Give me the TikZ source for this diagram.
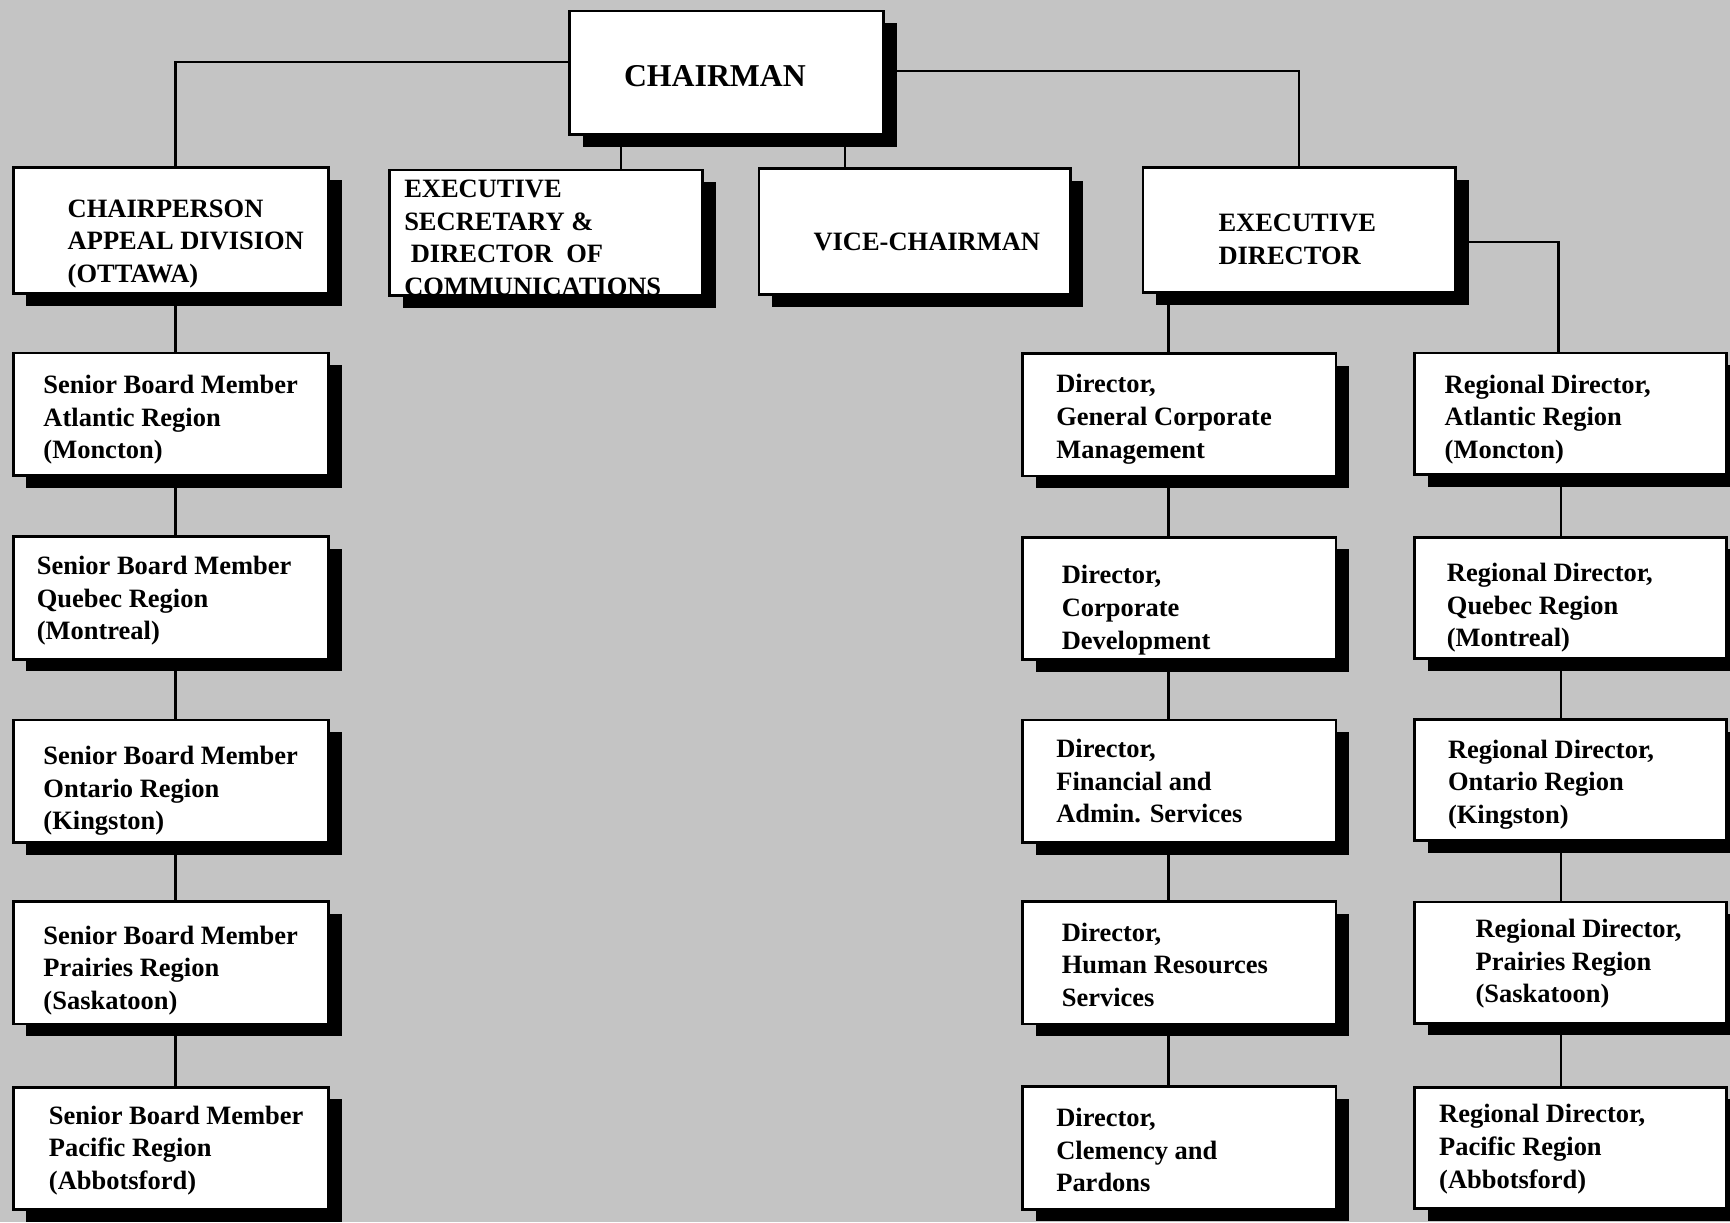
\documentclass[tikz,border=0pt]{standalone}
\usepackage{fontspec}
\setmainfont{Liberation Serif}
\usetikzlibrary{shadows}
\definecolor{paper}{gray}{0.77}

\begin{document}
\begin{tikzpicture}[x=0.5pt,y=-0.5pt,
  orgbox/.style={draw=black, line width=1.2pt, fill=white, inner sep=0pt,
    drop shadow={shadow xshift=6pt, shadow yshift=-5.5pt, opacity=1, fill=black}},
  colL/.style={orgbox, minimum width=143pt, minimum height=55.5pt},
  colM/.style={orgbox, minimum width=142pt, minimum height=55.5pt},
  colR/.style={orgbox, minimum width=141.5pt, minimum height=55pt},
  toprow/.style={orgbox, minimum height=57pt},
  lbl/.style={inner sep=0pt, anchor=west, align=left, yshift=-1.5pt,
    font=\fontsize{12}{14.75}\selectfont\bfseries},
  head/.style={inner sep=0pt, align=center,
    font=\fontsize{14.4}{17}\selectfont\bfseries},
  link/.style={draw=black, line width=1pt}]

% page background
\path[use as bounding box, fill=paper] (0,0) rectangle (1568,1108);

% ---------- boxes ----------
\node[toprow, minimum width=142.5pt, minimum height=56pt] (chair) at (658.5,66) {};
\node[toprow, minimum width=143pt] (cp) at (155,209) {};
\node[toprow, minimum width=142pt] (es) at (495,211) {};
\node[toprow, minimum width=141pt] (vc) at (829,210) {};
\node[toprow, minimum width=141.5pt, minimum height=56.5pt] (ed) at (1177.5,208.5) {};

\node[colL] (s1) at (155,375.5) {};
\node[colL] (s2) at (155,542) {};
\node[colL] (s3) at (155,708) {};
\node[colL] (s4) at (155,872.5) {};
\node[colL] (s5) at (155,1041) {};

\node[colM] (d1) at (1069,376) {};
\node[colM] (d2) at (1069,542.5) {};
\node[colM] (d3) at (1069,708) {};
\node[colM] (d4) at (1069,872.5) {};
\node[colM] (d5) at (1069,1040.5) {};

\node[colR] (r1) at (1423.5,375) {};
\node[colR] (r2) at (1423.5,542) {};
\node[colR] (r3) at (1423.5,707) {};
\node[colR] (r4) at (1423.5,872.5) {};
\node[colR] (r5) at (1423.5,1040.5) {};

% ---------- connectors ----------
\draw[link] ([yshift=5pt]chair.west) -| ([xshift=2pt]cp.north);
\draw[link] ([xshift=34pt]es.north) -- ([xshift=34pt]es.north |- chair.south);
\draw[link] ([xshift=-31.5pt]vc.north) -- ([xshift=-31.5pt]vc.north |- chair.south);
\draw[link] ([yshift=1pt]chair.east) -| (ed.north);
\draw[link] ([yshift=-5.25pt]ed.east) -| ([xshift=-5.5pt]r1.north);
\draw[link] ([xshift=-59.25pt]ed.south) -- ([xshift=-5pt]d1.north);

\draw[link] ([xshift=2pt]cp.south) -- ([xshift=2pt]s1.north);
\draw[link] ([xshift=2pt]s1.south) -- ([xshift=2pt]s2.north);
\draw[link] ([xshift=2pt]s2.south) -- ([xshift=2pt]s3.north);
\draw[link] ([xshift=2pt]s3.south) -- ([xshift=2pt]s4.north);
\draw[link] ([xshift=2pt]s4.south) -- ([xshift=2pt]s5.north);

\draw[link] ([xshift=-5pt]d1.south) -- ([xshift=-5pt]d2.north);
\draw[link] ([xshift=-5pt]d2.south) -- ([xshift=-5pt]d3.north);
\draw[link] ([xshift=-5pt]d3.south) -- ([xshift=-5pt]d4.north);
\draw[link] ([xshift=-5pt]d4.south) -- ([xshift=-5pt]d5.north);

\draw[link] ([xshift=-4.25pt]r1.south) -- ([xshift=-4.25pt]r2.north);
\draw[link] ([xshift=-4.25pt]r2.south) -- ([xshift=-4.25pt]r3.north);
\draw[link] ([xshift=-4.25pt]r3.south) -- ([xshift=-4.25pt]r4.north);
\draw[link] ([xshift=-4.25pt]r4.south) -- ([xshift=-4.25pt]r5.north);

% ---------- labels ----------
\node[head] (chairT) at (648,69) {CHAIRMAN};
\node[lbl] (cpT) at (61,218) {CHAIRPERSON\\APPEAL DIVISION\\(OTTAWA)};
\node[lbl] (esT) at (366,212.5) {EXECUTIVE\\SECRETARY \&\\\hspace{3pt}DIRECTOR~ OF\\COMMUNICATIONS};
\node[lbl, anchor=center] (vcT) at (840,216) {VICE-CHAIRMAN};
\node[lbl] (edT) at (1104,214) {EXECUTIVE\\DIRECTOR};

\node[lbl] (s1T) at (39,377.5) {Senior Board Member\\Atlantic Region\\(Moncton)};
\node[lbl] (s2T) at (33,541.5) {Senior Board Member\\Quebec Region\\(Montreal)};
\node[lbl] (s3T) at (39,714) {Senior Board Member\\Ontario Region\\(Kingston)};
\node[lbl] (s4T) at (39,876.5) {Senior Board Member\\Prairies Region\\(Saskatoon)};
\node[lbl] (s5T) at (44,1039.5) {Senior Board Member\\Pacific Region\\(Abbotsford)};

\node[lbl] (d1T) at (957,377) {Director,\\General Corporate\\Management};
\node[lbl] (d2T) at (962,550) {Director,\\Corporate\\Development};
\node[lbl] (d3T) at (957,705) {Director,\\Financial and\\Admin. Services};
\node[lbl] (d4T) at (962,871.5) {Director,\\Human Resources\\Services};
\node[lbl] (d5T) at (957,1039.5) {Director,\\Clemency and\\Pardons};

\node[lbl] (r1T) at (1309,377) {Regional Director,\\Atlantic Region\\(Moncton)};
\node[lbl] (r2T) at (1311,548) {Regional Director,\\Quebec Region\\(Montreal)};
\node[lbl] (r3T) at (1312,708) {Regional Director,\\Ontario Region\\(Kingston)};
\node[lbl] (r4T) at (1337,870.5) {Regional Director,\\Prairies Region\\(Saskatoon)};
\node[lbl] (r5T) at (1304,1038.5) {Regional Director,\\Pacific Region\\(Abbotsford)};
\end{tikzpicture}
\end{document}
